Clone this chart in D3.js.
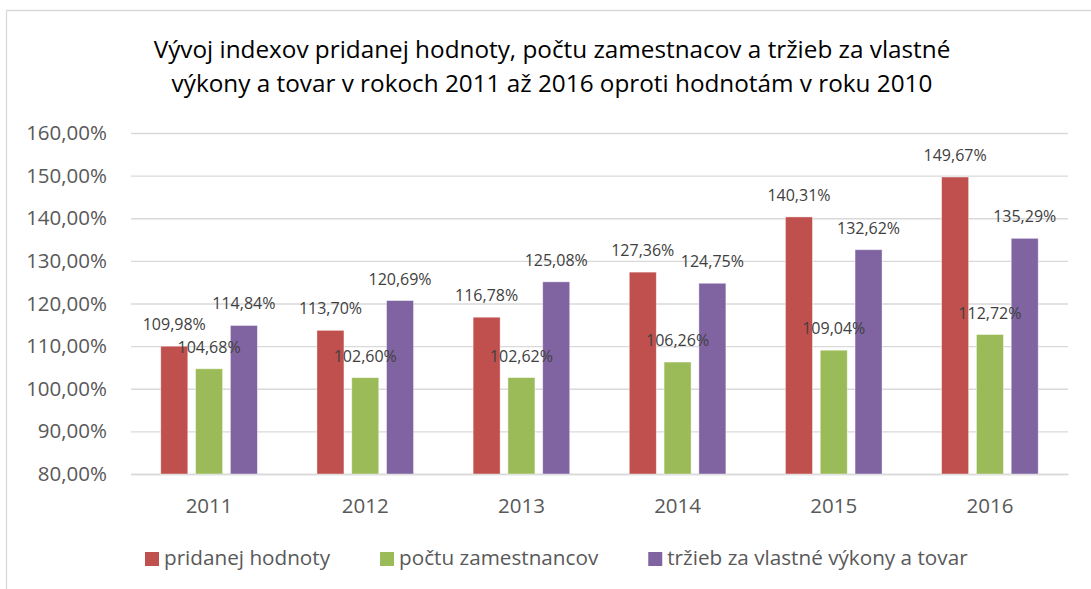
<!DOCTYPE html>
<html>
<head>
<meta charset="utf-8">
<script src="https://cdn.jsdelivr.net/npm/d3@7"></script>
<style>
  body { margin: 0; background: #fff; }
  text { font-family: "Open Sans", "Noto Sans", sans-serif; }
</style>
</head>
<body>
<div id="chart"></div>
<script>
// data
var years = ["2011", "2012", "2013", "2014", "2015", "2016"];
var seriesNames = ["pridanej hodnoty", "počtu zamestnancov", "tržieb za vlastné výkony a tovar"];
var pridanejHodnoty = [109.98, 113.70, 116.78, 127.36, 140.31, 149.67];
var poctuZamestnancov = [104.68, 102.60, 102.62, 106.26, 109.04, 112.72];
var trzieb = [114.84, 120.69, 125.08, 124.75, 132.62, 135.29];
var yTicks = [80, 90, 100, 110, 120, 130, 140, 150, 160];
var titleLines = ["Vývoj indexov pridanej hodnoty, počtu zamestnacov a tržieb za vlastné",
                  "výkony a tovar v rokoch 2011 až 2016 oproti hodnotám v roku 2010"];

var colors = ["#C0504D", "#9BBB59", "#8064A2"];
var allSeries = [pridanejHodnoty, poctuZamestnancov, trzieb];

var width = 1091, height = 589;
var plot = { left: 131, right: 1068, top: 133, bottom: 474 };

var svg = d3.select("#chart")
    .append("svg")
    .attr("width", width)
    .attr("height", height);

// chart area border (cropped on the right and bottom)
svg.append("path")
    .attr("d", "M6.5," + height + "V10.5H" + width)
    .attr("fill", "none")
    .attr("stroke", "#d9d9d9")
    .attr("stroke-width", 1.3);

// title
var title = svg.append("text")
    .attr("text-anchor", "middle")
    .attr("fill", "#000")
    .style("font-size", "24.3px");
title.selectAll("tspan")
    .data(titleLines)
    .enter()
    .append("tspan")
    .attr("x", 552)
    .attr("y", function (d, i) { return 58 + i * 34; })
    .text(function (d) { return d; });

// scales
var x0 = d3.scaleBand()
    .domain(years)
    .range([plot.left, plot.right]);
var groupWidth = 96.6;
var x1 = d3.scaleBand()
    .domain([0, 1, 2])
    .range([0, groupWidth])
    .paddingInner(0.224);
var y = d3.scaleLinear()
    .domain([80, 160])
    .range([plot.bottom, plot.top]);

var fmt = function (d) { return d3.format(".2f")(d).replace(".", ",") + "%"; };
var off = (x0.bandwidth() - groupWidth) / 2;
var barX = function (si, i) { return x0(years[i]) + off + x1(si); };

// y axis with gridlines
var yAxis = svg.append("g")
    .attr("transform", "translate(" + plot.left + ",0)")
    .call(d3.axisLeft(y)
        .tickValues(yTicks)
        .tickSizeInner(-(plot.right - plot.left))
        .tickSizeOuter(0)
        .tickPadding(24)
        .tickFormat(fmt));
yAxis.select(".domain").remove();
yAxis.selectAll("line").attr("stroke", "#d9d9d9").attr("stroke-width", 1.3);
yAxis.selectAll("text")
    .attr("fill", "#595959")
    .style("font-size", "20.5px");

// x axis
var xAxis = svg.append("g")
    .attr("transform", "translate(0," + plot.bottom + ")")
    .call(d3.axisBottom(x0).tickSize(0).tickPadding(24));
xAxis.select(".domain").attr("stroke", "#d9d9d9").attr("stroke-width", 1.3);
xAxis.selectAll("text")
    .attr("fill", "#595959")
    .style("font-size", "20.5px");

// bars
svg.append("g")
    .selectAll("g")
    .data(allSeries)
    .enter()
    .append("g")
    .attr("fill", function (d, i) { return colors[i]; })
    .each(function (values, si) {
        d3.select(this).selectAll("rect")
            .data(values)
            .enter()
            .append("rect")
            .attr("x", function (d, i) { return barX(si, i); })
            .attr("y", function (d) { return y(d); })
            .attr("width", x1.bandwidth())
            .attr("height", function (d) { return y(80) - y(d); })
            .attr("stroke", "#fff")
            .attr("stroke-opacity", 0.5)
            .attr("stroke-width", 0.8);
    });

// data labels, drawn on top of all bars
svg.append("g")
    .selectAll("g")
    .data(allSeries)
    .enter()
    .append("g")
    .each(function (values, si) {
        d3.select(this).selectAll("text")
            .data(values)
            .enter()
            .append("text")
            .attr("x", function (d, i) { return barX(si, i) + x1.bandwidth() / 2; })
            .attr("y", function (d) { return y(d) - 16; })
            .attr("text-anchor", "middle")
            .attr("fill", "#404040")
            .style("font-size", "16px")
            .text(fmt);
    });

// legend
var legend = svg.append("g");
var lx = 145;
seriesNames.forEach(function (name, i) {
    legend.append("rect")
        .attr("x", lx)
        .attr("y", 552)
        .attr("width", 14)
        .attr("height", 14)
        .attr("fill", colors[i]);
    var t = legend.append("text")
        .attr("x", lx + 19)
        .attr("y", 565)
        .attr("fill", "#595959")
        .style("font-size", "20.7px")
        .text(name);
    lx += 19 + t.node().getComputedTextLength() + 50;
});
</script>
</body>
</html>
